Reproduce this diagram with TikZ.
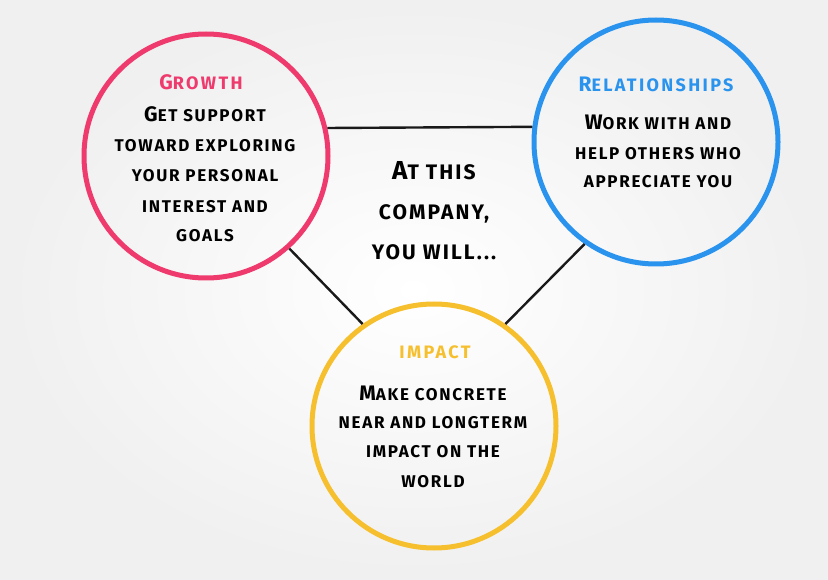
\documentclass[tikz,border=0pt]{standalone}
\usepackage{fontspec}
\setmainfont{Fira Sans}
\definecolor{gpink}{HTML}{EE3A6C}
\definecolor{rblue}{HTML}{2A93EE}
\definecolor{iyel}{HTML}{F6BF2E}
\newcommand\Cap[1]{{\fontsize{21}{21}\selectfont #1}}
\newcommand\CapC[1]{{\fontsize{26}{26}\selectfont #1}}
\begin{document}
\begin{tikzpicture}[x=1pt,y=-1pt,
  ring/.style={circle,draw,line width=5pt,minimum size=244pt,inner sep=0pt},
  link/.style={line width=2.4pt,black!90},
  txt/.style={anchor=base,inner sep=0pt,font=\fontsize{17}{17}\selectfont\bfseries\addfontfeature{LetterSpace=10}},
  ttl/.style={anchor=base,inner sep=0pt,font=\fontsize{18}{18}\selectfont\bfseries\addfontfeature{LetterSpace=13}},
  ctxt/.style={anchor=base,inner sep=0pt,font=\fontsize{21}{21}\selectfont\bfseries\addfontfeature{LetterSpace=10}}]
\useasboundingbox (0,0) rectangle (828,580);
\shade[inner color=white,outer color=black!6] (0,0) rectangle (828,580);
\node[ring,draw=gpink] (g) at (206,156) {};
\node[ring,draw=rblue] (r) at (656,142) {};
\node[ring,draw=iyel] (i) at (434,426) {};
\draw[link] (g.13) -- (r.173);
\draw[link] (g.-48) -- (i.125);
\draw[link] (r.235) -- (i.55);
% Growth
\node[ttl,text=gpink] (gt) at (201,90) {\Cap{G}ROWTH};
\node[txt] (g1) at (205,122) {\Cap{G}ET SUPPORT};
\node[txt] (g2) at (205,152) {TOWARD EXPLORING};
\node[txt] (g3) at (205,182) {YOUR PERSONAL};
\node[txt] (g4) at (205,213) {INTEREST AND};
\node[txt] (g5) at (205,242) {GOALS};
% Relationships
\node[ttl,text=rblue] (rt) at (656,92) {\Cap{R}ELATIONSHIPS};
\node[txt] (r1) at (658,130) {\Cap{W}ORK WITH AND};
\node[txt] (r2) at (658,160) {HELP OTHERS WHO};
\node[txt] (r3) at (658,188) {APPRECIATE YOU};
% Impact
\node[ttl,text=iyel] (it) at (435,358) {IMPACT};
\node[txt] (i1) at (433,400) {\Cap{M}AKE CONCRETE};
\node[txt] (i2) at (433,428) {NEAR AND LONGTERM};
\node[txt] (i3) at (433,457) {IMPACT ON THE};
\node[txt] (i4) at (433,487) {WORLD};
% Center
\node[ctxt] (c1) at (434,180) {\CapC{A}T THIS};
\node[ctxt] (c2) at (434,220) {COMPANY,};
\node[ctxt] (c3) at (434,260) {YOU WILL...};
\end{tikzpicture}
\end{document}
